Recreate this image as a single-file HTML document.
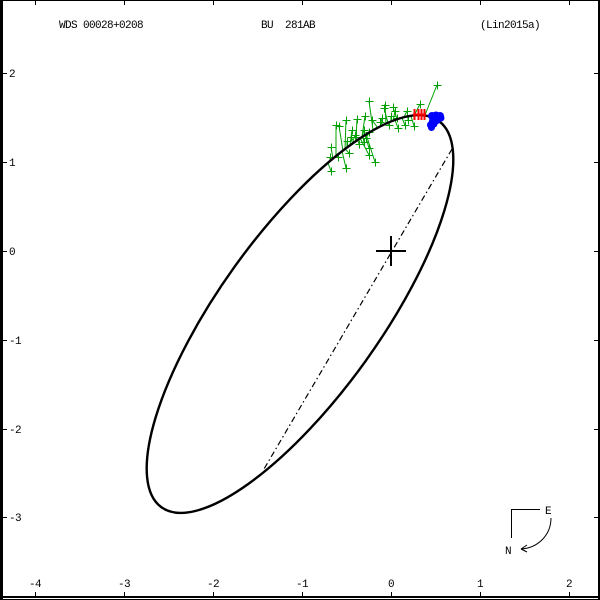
<!DOCTYPE html>
<html><head><meta charset="utf-8"><style>
html,body{margin:0;padding:0;background:#fff;}
svg{display:block;}
text{font-family:"Liberation Mono","DejaVu Sans Mono",monospace;font-size:11px;letter-spacing:-0.6px;fill:#000;}
</style></head><body>
<svg width="600" height="600" viewBox="0 0 600 600" xmlns="http://www.w3.org/2000/svg">
<rect width="600" height="600" fill="#fff"/>
<!-- frame -->
<rect x="0" y="0" width="3" height="600" fill="#000"/>
<rect x="0" y="0" width="600" height="1" fill="#000"/>
<rect x="598" y="0" width="2" height="600" fill="#000"/>
<rect x="0" y="596" width="600" height="2" fill="#000"/>
<rect x="0" y="599" width="600" height="1" fill="#000"/>
<!-- ticks -->
<g stroke="#000" stroke-width="1" shape-rendering="crispEdges">
<path d="M35.5,0v5M124.5,0v5M213.5,0v5M302.5,0v5M391.5,0v5M480.5,0v5M569.5,0v5"/>
<path d="M35.5,592v5M124.5,592v5M213.5,592v5M302.5,592v5M391.5,592v5M480.5,592v5M569.5,592v5"/>
<path d="M3,73.5h4M3,162.5h4M3,251.5h4M3,340.5h4M3,429.5h4M3,517.5h4"/>
<path d="M594,73.5h4M594,162.5h4M594,251.5h4M594,340.5h4M594,429.5h4M594,517.5h4"/>
</g>
<!-- titles -->
<text x="59" y="28">WDS 00028+0208</text>
<text x="261" y="28" xml:space="preserve">BU  281AB</text>
<text x="480" y="28">(Lin2015a)</text>
<!-- left labels -->
<text x="9" y="77">2</text>
<text x="9" y="166">1</text>
<text x="9" y="255">0</text>
<text x="9" y="344">-1</text>
<text x="9" y="433">-2</text>
<text x="9" y="521">-3</text>
<!-- bottom labels -->
<g text-anchor="middle">
<text x="35" y="587">-4</text>
<text x="124" y="587">-3</text>
<text x="213" y="587">-2</text>
<text x="302" y="587">-1</text>
<text x="391" y="587">0</text>
<text x="480" y="587">1</text>
<text x="569" y="587">2</text>
</g>
<!-- O-C lines and micrometric pluses -->
<g stroke="#00a000" stroke-width="1" fill="none">
<path d="M369,101L373,130M384,108L388,123M365,116L362,137M357,119L356,141M346,120L345,149M336,125L336,156M339,126L343,151M352,130L350,145M372,120L378,128M380,122L383,125M364,130L362,137M369,132L367,134M355,135L352,144M351,137L354,142M331,147L333,159M338,157L337,155M330,157L330,161M349,153L345,149M369,155L360,138M369,148L365,135M375,162L366,134M346,168L342,151M331,171L328,163M359,144L358,140M364,142L363,137M437,85L425,115M420,104L414,116M407,111L404,117M393,107L397,119M385,105L386,124M395,111L393,121M382,118L380,127M391,116L391,122M397,118L399,119M408,120L408,116M405,125L402,118M414,126L411,116M398,128L395,120M389,125L387,123M347,141L347,148M366,138L369,133M356,137L357,140"/>
<g transform="translate(0.5,0.5)" shape-rendering="crispEdges">
<path d="M365,101h8M369,97v8M380,108h8M384,104v8M361,116h8M365,112v8M353,119h8M357,115v8M342,120h8M346,116v8M332,125h8M336,121v8M335,126h8M339,122v8M348,130h8M352,126v8M368,120h8M372,116v8M376,122h8M380,118v8M360,130h8M364,126v8M365,132h8M369,128v8M351,135h8M355,131v8M347,137h8M351,133v8M327,147h8M331,143v8M334,157h8M338,153v8M326,157h8M330,153v8M345,153h8M349,149v8M365,155h8M369,151v8M365,148h8M369,144v8M371,162h8M375,158v8M342,168h8M346,164v8M327,171h8M331,167v8M355,144h8M359,140v8M360,142h8M364,138v8M433,85h8M437,81v8M416,104h8M420,100v8M403,111h8M407,107v8M389,107h8M393,103v8M381,105h8M385,101v8M391,111h8M395,107v8M378,118h8M382,114v8M387,116h8M391,112v8M393,118h8M397,114v8M404,120h8M408,116v8M401,125h8M405,121v8M410,126h8M414,122v8M394,128h8M398,124v8M385,125h8M389,121v8M343,141h8M347,137v8M362,138h8M366,134v8M352,137h8M356,133v8"/>
</g>
</g>
<!-- orbit -->
<ellipse cx="300" cy="314" rx="237.8" ry="80.7" transform="rotate(-54.36 300 314)" fill="none" stroke="#000" stroke-width="2.4"/>
<!-- line of nodes -->
<line x1="452" y1="149" x2="264" y2="469" stroke="#000" stroke-width="1.2" stroke-dasharray="6 3 1.5 3"/>
<!-- primary cross -->
<path d="M376,251H406M391,236V266" stroke="#000" stroke-width="2"/>
<!-- Hipparcos red H -->
<g stroke="#ff0000" stroke-width="2" fill="none">
<path d="M414.5,109V120M418.5,109V120M421.5,109V120M424.5,109V120M413,114.5H426"/>
</g>
<!-- blue points -->
<g fill="#0000ff">
<circle cx="432" cy="116" r="4"/>
<circle cx="436" cy="115.5" r="4"/>
<circle cx="440" cy="116" r="4"/>
<circle cx="441" cy="118" r="3.5"/>
<circle cx="437" cy="120" r="4"/>
<circle cx="433" cy="121" r="4"/>
<circle cx="431" cy="125" r="4"/>
<circle cx="431.5" cy="127.5" r="3.5"/>
<circle cx="434" cy="124" r="3.5"/>
</g>
<!-- compass -->
<g stroke="#000" stroke-width="1" fill="none">
<path d="M540,509.5H511.5V538" shape-rendering="crispEdges"/>
<path d="M551,518C551,535 538,548 521,549"/>
<path d="M521,549L527,545M521,549L527,552"/>
</g>
<text x="545" y="514">E</text>
<text x="505" y="554">N</text>
</svg>
</body></html>
